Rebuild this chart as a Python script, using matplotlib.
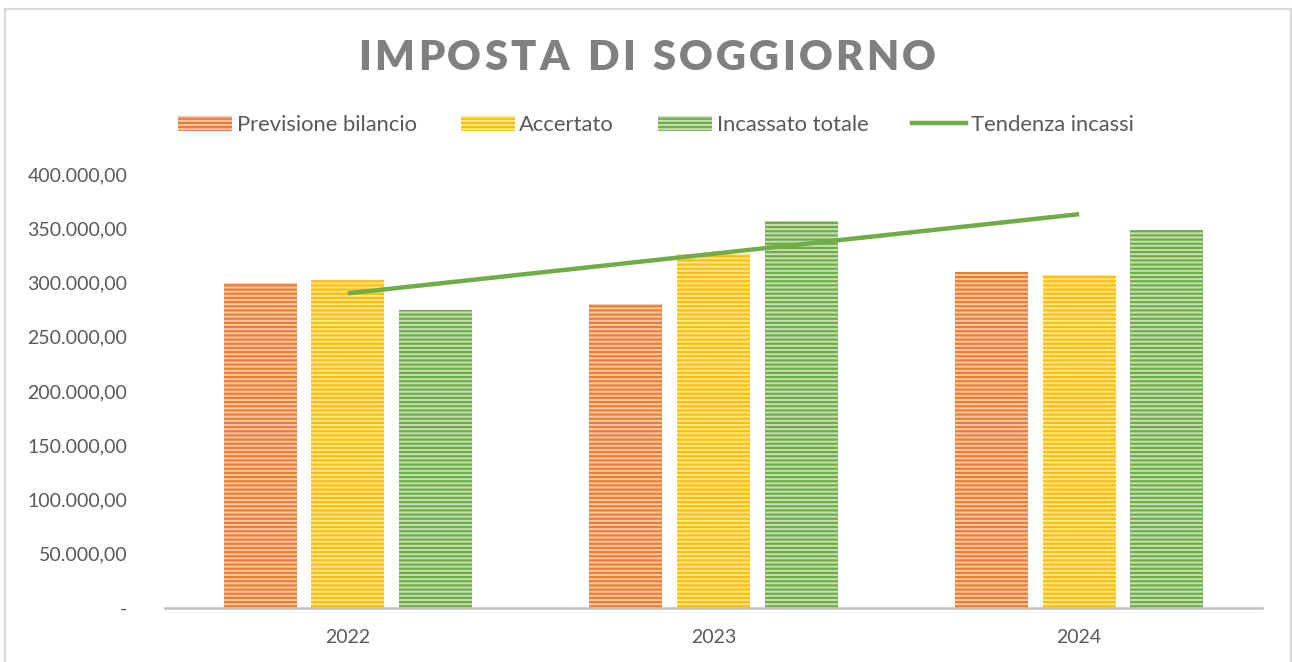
import matplotlib
matplotlib.use("Agg")
import matplotlib.pyplot as plt
from matplotlib.patches import Patch, Rectangle
from matplotlib.lines import Line2D
import numpy as np

years = ["2022", "2023", "2024"]
previsione = [300000, 280000, 310000]
accertato = [302000, 326000, 307000]
incassato = [275000, 357000, 348500]
tendenza = [290000, 326500, 363000]

series_names = ["Previsione bilancio", "Accertato", "Incassato totale"]
series_colors = ["#ED7D31", "#FFC000", "#70AD47"]
series_light = ["#F8C9A8", "#FFE699", "#C5E0B4"]
trend_name = "Tendenza incassi"

plt.rcParams['font.family'] = ['Lato', 'DejaVu Sans']
plt.rcParams['hatch.linewidth'] = 1.6
text_col = "#595959"

fig = plt.figure(figsize=(12.92, 6.62), dpi=100)
W, H = 1292, 662
ax = fig.add_axes([165 / W, 1 - 608 / H, (1262 - 165) / W, (608 - 174) / H])

x = np.arange(len(years))
width = 0.2
step = 0.24
for i, (vals, col, light, name) in enumerate(zip([previsione, accertato, incassato],
                                                 series_colors, series_light, series_names)):
    ax.bar(x + (i - 1) * step, vals, width, color=light, edgecolor=col,
           hatch='----', linewidth=0, label=name)

ax.plot(x, tendenza, color="#70AD47", linewidth=3.2, solid_capstyle='butt')

ax.set_xlim(-0.5, 2.5)
ax.set_ylim(0, 400000)
ax.set_yticks(np.arange(0, 400001, 50000))

def fmt(v):
    if v == 0:
        return "-"
    s = f"{int(v):,}".replace(",", ".")
    return s + ",00"

ax.set_yticklabels([fmt(v) for v in ax.get_yticks()])
ax.set_xticks(x)
ax.set_xticklabels(years)
ax.tick_params(axis='both', length=0, labelsize=14, labelcolor=text_col)
ax.tick_params(axis='y', pad=27)
ax.tick_params(axis='x', pad=15)
for s in ['top', 'right', 'left']:
    ax.spines[s].set_visible(False)
ax.spines['bottom'].set_color("#BFBFBF")
ax.spines['bottom'].set_linewidth(1.8)

# legend
handles = [Patch(facecolor=l, edgecolor=c, hatch='----', linewidth=0)
           for c, l in zip(series_colors, series_light)]
handles.append(Line2D([0], [0], color="#70AD47", linewidth=3.2))
leg = fig.legend(handles, series_names + [trend_name], loc='center',
                 bbox_to_anchor=(656 / W, 1 - 125 / H), ncol=4, frameon=False,
                 fontsize=15.8, handlelength=2.45, handleheight=0.65,
                 handletextpad=0.22, columnspacing=2.0, labelcolor=text_col)

# title with letter spacing
title = "IMPOSTA DI SOGGIORNO"
fig.canvas.draw()
renderer = fig.canvas.get_renderer()
tprops = dict(fontsize=30, fontweight='heavy', color="#808080")
widths = []
for ch in title:
    if ch == " ":
        t = fig.text(0, 0, "I", **tprops)
        w = t.get_window_extent(renderer).width * 0.9
    else:
        t = fig.text(0, 0, ch, **tprops)
        w = t.get_window_extent(renderer).width
    t.remove()
    widths.append(w)
total_target = 577
spacing = (total_target - sum(widths)) / (len(title) - 1)
xpos = 647 - total_target / 2
for ch, w in zip(title, widths):
    if ch != " ":
        fig.text(xpos / W, 1 - 58 / H, ch, ha='left', va='center', **tprops)
    xpos += w + spacing

# chart border
fig.patches.append(Rectangle((5 / W, -0.05), (1291 - 5) / W, 1.05 - 9 / H,
                             transform=fig.transFigure, fill=False,
                             edgecolor="#D9D9D9", linewidth=1.5))

fig.savefig("out.png", dpi=100)
